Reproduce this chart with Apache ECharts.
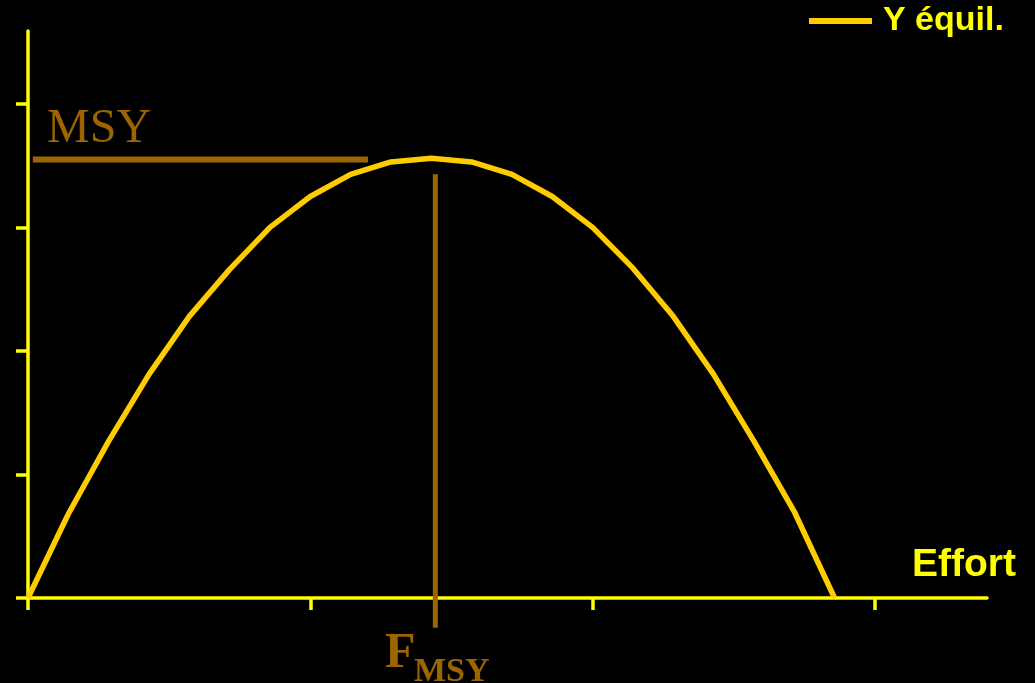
<!DOCTYPE html>
<html>
<head>
<meta charset="utf-8">
<script src="https://cdn.jsdelivr.net/npm/echarts@6/dist/echarts.min.js"></script>
<style>
  html, body { margin: 0; padding: 0; background: #000; }
  #chart { width: 1035px; height: 683px; }
</style>
</head>
<body>
<div id="chart"></div>
<script>
// effort steps and equilibrium yield
const effort = [0, 1, 2, 3, 4, 5, 6, 7, 8, 9, 10, 11, 12, 13, 14, 15, 16, 17, 18, 19, 20];
const yieldEq = [0, 0.68, 1.27, 1.81, 2.28, 2.66, 3.0, 3.25, 3.43, 3.53, 3.56, 3.53, 3.43, 3.25, 3.0, 2.67, 2.28, 1.81, 1.27, 0.7, 0];
// reference lines
const msyLine = [[0.12, 3.55], [8.43, 3.55]];
const fmsyLine = [[10.1, 3.43], [10.1, -0.24]];
const xTicks = [0, 7, 14, 21];
const yTicks = [0, 1, 2, 3, 4];

const yellow = "#FFFF00";
const gold = "#FFCC00";
const brown = "#9C6500";

let myChart = echarts.init(document.getElementById("chart"));

let option = {
  backgroundColor: "#000",
  animation: false,
  grid: { left: 28, right: 48, top: 31, bottom: 85 },
  legend: {
    left: 809,
    top: 4,
    padding: 0,
    icon: "rect",
    itemWidth: 63,
    itemHeight: 6,
    data: ["Y équil."],
    textStyle: {
      color: yellow,
      fontFamily: "Liberation Sans",
      fontWeight: "bold",
      fontSize: 34,
      padding: [0, 0, 0, 6],
    },
  },
  xAxis: {
    type: "value",
    min: 0,
    max: 23.78,
    axisLine: { lineStyle: { color: yellow, width: 3.5 } },
    axisTick: { length: 12, customValues: xTicks, lineStyle: { color: yellow, width: 3.5 } },
    axisLabel: { show: false },
    splitLine: { show: false },
  },
  yAxis: {
    type: "value",
    min: 0,
    max: 4.59,
    axisLine: { show: true, lineStyle: { color: yellow, width: 3.5 } },
    axisTick: { show: true, length: 12, customValues: yTicks, lineStyle: { color: yellow, width: 3.5 } },
    axisLabel: { show: false },
    splitLine: { show: false },
  },
  graphic: [
    {
      type: "text",
      left: 47,
      top: 105,
      style: { text: "MSY", fill: brown, font: "48px 'Liberation Serif'" },
    },
    {
      type: "text",
      left: 385,
      top: 629,
      style: { text: "F", fill: brown, font: "bold 50px 'Liberation Serif'" },
    },
    {
      type: "text",
      left: 414,
      top: 655,
      style: { text: "MSY", fill: brown, font: "bold 34px 'Liberation Serif'" },
    },
    {
      type: "text",
      right: 19,
      top: 546,
      style: { text: "Effort", fill: yellow, font: "bold 39px 'Liberation Sans'" },
    },
  ],
  series: [
    {
      name: "Y équil.",
      type: "line",
      data: effort.map((e, i) => [e, yieldEq[i]]),
      showSymbol: false,
      symbol: "none",
      itemStyle: { color: gold },
      lineStyle: { color: gold, width: 5.5 },
      z: 3,
    },
    {
      name: "msy",
      type: "line",
      data: msyLine,
      symbol: "none",
      lineStyle: { color: brown, width: 6 },
      clip: false,
      silent: true,
    },
    {
      name: "fmsy",
      type: "line",
      data: fmsyLine,
      symbol: "none",
      lineStyle: { color: brown, width: 5 },
      clip: false,
      silent: true,
    },
  ],
};

myChart.setOption(option);
window.addEventListener("resize", function () {
  myChart.resize();
});
</script>
</body>
</html>
